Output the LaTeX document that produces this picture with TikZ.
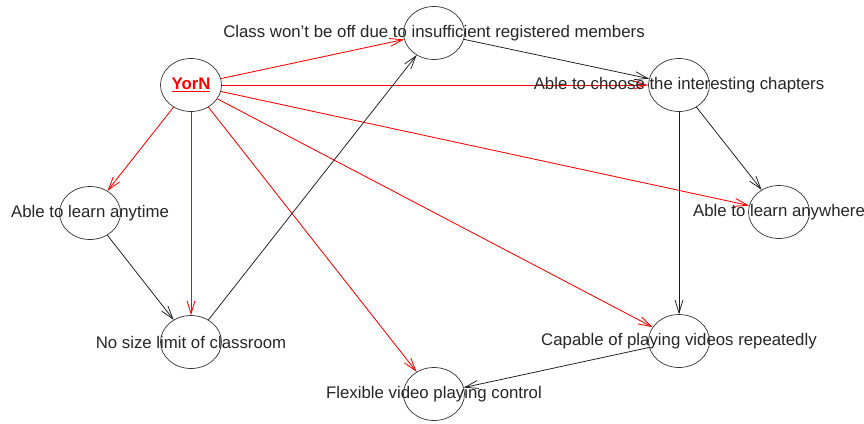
\documentclass[tikz,border=0pt]{standalone}
\usepackage{fontspec}
\setmainfont{Liberation Sans}
\usetikzlibrary{shapes.geometric,arrows.meta}
\begin{document}
\begin{tikzpicture}[x=1pt,y=-1pt,
  vert/.style={ellipse,draw=black!80,line width=0.7pt,minimum width=61pt,minimum height=53pt,inner sep=0pt},
  lbl/.style={font=\fontsize{16.8}{18}\selectfont,text=black!85,inner sep=0pt},
  redge/.style={draw=red,line width=0.85pt,-{Straight Barb[length=13pt,width=8pt,line width=0.85pt]}},
  bedge/.style={draw=black!90,line width=0.75pt,-{Straight Barb[length=13pt,width=8pt,line width=0.75pt]}}]
\useasboundingbox (0,0) rectangle (864,423);
\fill[white] (0,0) rectangle (864,423);
\node[vert] (Y) at (191,85) {};
\node[vert] (C) at (434,33) {};
\node[vert] (H) at (679,85) {};
\node[vert] (T) at (90,213) {};
\node[vert] (W) at (779,212) {};
\node[vert] (N) at (191,342) {};
\node[vert] (P) at (679,341) {};
\node[vert] (F) at (434,394) {};
% edges
\draw[redge] (Y) -- (C);
\draw[redge] (Y) -- (H);
\draw[redge] (Y) -- (T);
\draw[redge] (Y) -- (N);
\draw[redge] (Y) -- (F);
\draw[redge] (Y) -- (P);
\draw[redge] (Y) -- (W);
\draw[bedge] (C) -- (H);
\draw[bedge] (H) -- (P);
\draw[bedge] (H) -- (W);
\draw[bedge] (T) -- (N);
\draw[bedge] (N) -- (C);
\draw[bedge] (P) -- (F);
% labels
\node[lbl,text=red,font=\fontsize{16.8}{18}\selectfont\bfseries] (Yl) at (Y.center) {\underline{YorN}};
\node[lbl] (Cl) at (C.center) {Class won't be off due to insufficient registered members};
\node[lbl] (Hl) at (H.center) {Able to choose the interesting chapters};
\node[lbl] (Tl) at (T.center) {Able to learn anytime};
\node[lbl] (Wl) at (W.center) {Able to learn anywhere};
\node[lbl] (Nl) at (N.center) {No size limit of classroom};
\node[lbl] (Pl) at (P.center) {Capable of playing videos repeatedly};
\node[lbl] (Fl) at (F.center) {Flexible video playing control};
\end{tikzpicture}
\end{document}
